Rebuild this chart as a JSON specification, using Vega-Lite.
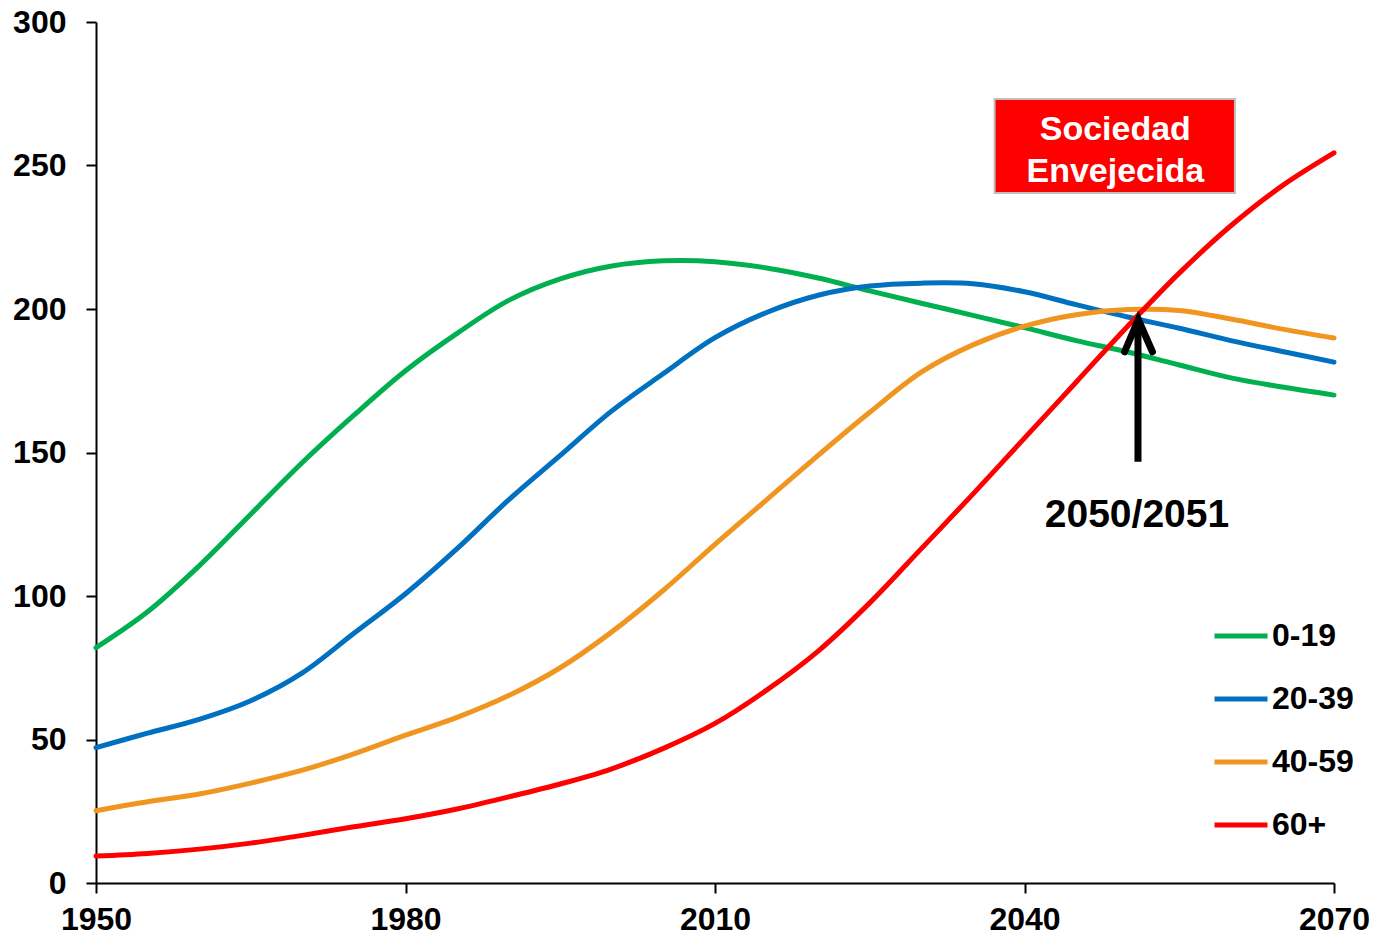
{
  "$schema": "https://vega.github.io/schema/vega-lite/v6.json",
  "width": 1238,
  "height": 861,
  "autosize": {"type": "none"},
  "padding": {"left": 96, "top": 22, "right": 53, "bottom": 52},
  "background": "white",
  "config": {
    "view": {"stroke": null},
    "font": "Liberation Sans",
    "axis": {
      "grid": false,
      "domainColor": "black",
      "domainWidth": 2,
      "tickColor": "black",
      "tickWidth": 2,
      "tickSize": 10,
      "labelFont": "Liberation Sans",
      "labelFontWeight": "bold",
      "labelFontSize": 32,
      "labelColor": "black",
      "title": null
    }
  },
  "layer": [
    {
      "data": {
        "values": [
          {"year": 1950, "value": 82, "group": "0-19"},
          {"year": 1955, "value": 94.5, "group": "0-19"},
          {"year": 1960, "value": 110.5, "group": "0-19"},
          {"year": 1965, "value": 128.5, "group": "0-19"},
          {"year": 1970, "value": 146.5, "group": "0-19"},
          {"year": 1975, "value": 163, "group": "0-19"},
          {"year": 1980, "value": 178.5, "group": "0-19"},
          {"year": 1985, "value": 191.5, "group": "0-19"},
          {"year": 1990, "value": 203, "group": "0-19"},
          {"year": 1995, "value": 210.5, "group": "0-19"},
          {"year": 2000, "value": 215, "group": "0-19"},
          {"year": 2005, "value": 216.8, "group": "0-19"},
          {"year": 2010, "value": 216.5, "group": "0-19"},
          {"year": 2015, "value": 214.3, "group": "0-19"},
          {"year": 2020, "value": 210.8, "group": "0-19"},
          {"year": 2025, "value": 206.3, "group": "0-19"},
          {"year": 2030, "value": 202, "group": "0-19"},
          {"year": 2035, "value": 197.8, "group": "0-19"},
          {"year": 2040, "value": 193.5, "group": "0-19"},
          {"year": 2045, "value": 189, "group": "0-19"},
          {"year": 2050, "value": 185, "group": "0-19"},
          {"year": 2055, "value": 180.5, "group": "0-19"},
          {"year": 2060, "value": 176, "group": "0-19"},
          {"year": 2065, "value": 172.8, "group": "0-19"},
          {"year": 2070, "value": 170, "group": "0-19"},
          {"year": 1950, "value": 47.2, "group": "20-39"},
          {"year": 1955, "value": 52.2, "group": "20-39"},
          {"year": 1960, "value": 57, "group": "20-39"},
          {"year": 1965, "value": 63.5, "group": "20-39"},
          {"year": 1970, "value": 73.2, "group": "20-39"},
          {"year": 1975, "value": 87, "group": "20-39"},
          {"year": 1980, "value": 100.8, "group": "20-39"},
          {"year": 1985, "value": 116.5, "group": "20-39"},
          {"year": 1990, "value": 133.5, "group": "20-39"},
          {"year": 1995, "value": 149, "group": "20-39"},
          {"year": 2000, "value": 164.5, "group": "20-39"},
          {"year": 2005, "value": 177.5, "group": "20-39"},
          {"year": 2010, "value": 190, "group": "20-39"},
          {"year": 2015, "value": 198.8, "group": "20-39"},
          {"year": 2020, "value": 204.8, "group": "20-39"},
          {"year": 2025, "value": 208, "group": "20-39"},
          {"year": 2030, "value": 209, "group": "20-39"},
          {"year": 2035, "value": 208.8, "group": "20-39"},
          {"year": 2040, "value": 206, "group": "20-39"},
          {"year": 2045, "value": 201.5, "group": "20-39"},
          {"year": 2050, "value": 197.2, "group": "20-39"},
          {"year": 2055, "value": 193.3, "group": "20-39"},
          {"year": 2060, "value": 189, "group": "20-39"},
          {"year": 2065, "value": 185.2, "group": "20-39"},
          {"year": 2070, "value": 181.5, "group": "20-39"},
          {"year": 1950, "value": 25.2, "group": "40-59"},
          {"year": 1955, "value": 28.3, "group": "40-59"},
          {"year": 1960, "value": 31, "group": "40-59"},
          {"year": 1965, "value": 34.8, "group": "40-59"},
          {"year": 1970, "value": 39.3, "group": "40-59"},
          {"year": 1975, "value": 45, "group": "40-59"},
          {"year": 1980, "value": 51.5, "group": "40-59"},
          {"year": 1985, "value": 57.7, "group": "40-59"},
          {"year": 1990, "value": 65.3, "group": "40-59"},
          {"year": 1995, "value": 75, "group": "40-59"},
          {"year": 2000, "value": 87.5, "group": "40-59"},
          {"year": 2005, "value": 102, "group": "40-59"},
          {"year": 2010, "value": 118, "group": "40-59"},
          {"year": 2015, "value": 133.5, "group": "40-59"},
          {"year": 2020, "value": 149, "group": "40-59"},
          {"year": 2025, "value": 164, "group": "40-59"},
          {"year": 2030, "value": 178, "group": "40-59"},
          {"year": 2035, "value": 187.5, "group": "40-59"},
          {"year": 2040, "value": 194, "group": "40-59"},
          {"year": 2045, "value": 198, "group": "40-59"},
          {"year": 2050, "value": 199.8, "group": "40-59"},
          {"year": 2055, "value": 199.5, "group": "40-59"},
          {"year": 2060, "value": 196.5, "group": "40-59"},
          {"year": 2065, "value": 193, "group": "40-59"},
          {"year": 2070, "value": 189.9, "group": "40-59"},
          {"year": 1950, "value": 9.4, "group": "60+"},
          {"year": 1955, "value": 10.3, "group": "60+"},
          {"year": 1960, "value": 11.8, "group": "60+"},
          {"year": 1965, "value": 13.9, "group": "60+"},
          {"year": 1970, "value": 16.6, "group": "60+"},
          {"year": 1975, "value": 19.6, "group": "60+"},
          {"year": 1980, "value": 22.4, "group": "60+"},
          {"year": 1985, "value": 25.8, "group": "60+"},
          {"year": 1990, "value": 30, "group": "60+"},
          {"year": 1995, "value": 34.5, "group": "60+"},
          {"year": 2000, "value": 39.8, "group": "60+"},
          {"year": 2005, "value": 46.9, "group": "60+"},
          {"year": 2010, "value": 55.6, "group": "60+"},
          {"year": 2015, "value": 67.2, "group": "60+"},
          {"year": 2020, "value": 80.8, "group": "60+"},
          {"year": 2025, "value": 97.6, "group": "60+"},
          {"year": 2030, "value": 116.5, "group": "60+"},
          {"year": 2035, "value": 135.5, "group": "60+"},
          {"year": 2040, "value": 155, "group": "60+"},
          {"year": 2045, "value": 174.5, "group": "60+"},
          {"year": 2050, "value": 194, "group": "60+"},
          {"year": 2055, "value": 212.5, "group": "60+"},
          {"year": 2060, "value": 229, "group": "60+"},
          {"year": 2065, "value": 243, "group": "60+"},
          {"year": 2070, "value": 254.4, "group": "60+"}
        ]
      },
      "mark": {"type": "line", "strokeWidth": 5, "strokeCap": "round", "interpolate": "catmull-rom"},
      "encoding": {
        "x": {
          "field": "year", "type": "quantitative",
          "scale": {"domain": [1950, 2070], "nice": false, "zero": false},
          "axis": {"values": [1950, 1980, 2010, 2040, 2070], "format": "d", "labelPadding": 11, "labelFlush": false}
        },
        "y": {
          "field": "value", "type": "quantitative",
          "scale": {"domain": [0, 300], "nice": false},
          "axis": {"values": [0, 50, 100, 150, 200, 250, 300], "labelPadding": 20}
        },
        "color": {
          "field": "group", "type": "nominal",
          "scale": {"domain": ["0-19", "20-39", "40-59", "60+"], "range": ["#00b050", "#0070c0", "#f0951f", "#ff0000"]},
          "legend": {
            "orient": "none",
            "legendX": 1116,
            "legendY": 585,
            "title": null,
            "symbolType": "stroke",
            "symbolStrokeWidth": 5,
            "symbolSize": 2809,
            "labelFont": "Liberation Sans",
            "labelFontWeight": "bold",
            "labelFontSize": 32,
            "labelColor": "black",
            "labelOffset": 2,
            "rowPadding": 18,
            "padding": 0
          }
        }
      }
    },
    {
      "data": {"values": [{"x1": 2037.1, "x2": 2060.4, "y1": 240.4, "y2": 273.2}]},
      "mark": {"type": "rect", "fill": "#ff0000", "stroke": "#bfbfbf", "strokeWidth": 2},
      "encoding": {
        "x": {"field": "x1", "type": "quantitative"},
        "x2": {"field": "x2"},
        "y": {"field": "y1", "type": "quantitative"},
        "y2": {"field": "y2"}
      }
    },
    {
      "data": {"values": [
        {"x": 2048.8, "y": 262.4, "label": "Sociedad"},
        {"x": 2048.8, "y": 247.7, "label": "Envejecida"}
      ]},
      "mark": {"type": "text", "color": "white", "font": "Liberation Sans", "fontWeight": "bold", "fontSize": 34, "align": "center", "baseline": "middle"},
      "encoding": {
        "x": {"field": "x", "type": "quantitative"},
        "y": {"field": "y", "type": "quantitative"},
        "text": {"field": "label"}
      }
    },
    {
      "data": {"values": [{"x": 2051, "y1": 146.8, "y2": 195.5}]},
      "mark": {"type": "rule", "color": "black", "strokeWidth": 7},
      "encoding": {
        "x": {"field": "x", "type": "quantitative"},
        "y": {"field": "y1", "type": "quantitative"},
        "y2": {"field": "y2"}
      }
    },
    {
      "data": {"values": [
        {"x": 2049.7, "y": 185.1},
        {"x": 2051.03, "y": 196.3},
        {"x": 2052.4, "y": 185.1}
      ]},
      "mark": {"type": "line", "color": "black", "strokeWidth": 7, "strokeCap": "round", "strokeJoin": "miter"},
      "encoding": {
        "x": {"field": "x", "type": "quantitative"},
        "y": {"field": "y", "type": "quantitative"}
      }
    },
    {
      "data": {"values": [{"x": 2050.9, "y": 128.2, "label": "2050/2051"}]},
      "mark": {"type": "text", "color": "black", "font": "Liberation Sans", "fontWeight": "bold", "fontSize": 39, "align": "center", "baseline": "middle"},
      "encoding": {
        "x": {"field": "x", "type": "quantitative"},
        "y": {"field": "y", "type": "quantitative"},
        "text": {"field": "label"}
      }
    }
  ]
}
